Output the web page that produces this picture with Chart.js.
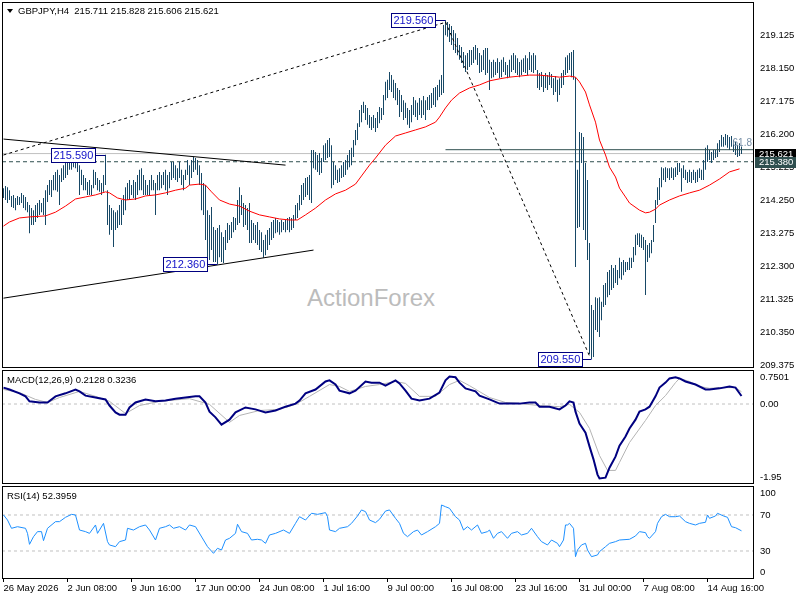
<!DOCTYPE html>
<html lang="en">
<head>
<meta charset="UTF-8">
<title>GBPJPY H4</title>
<script src="https://cdn.jsdelivr.net/npm/chart.js"></script>
<style>
  body { margin: 0; background: #fff; }
  #wrap { position: relative; width: 800px; height: 600px; overflow: hidden;
          font-family: "Liberation Sans", Arial, sans-serif; }
  #wrap canvas { position: absolute; left: 0; }
  .lbl { position: absolute; font-size: 9.5px; line-height: 11px; color: #000; white-space: pre; }
  #arrow { position: absolute; left: 7px; top: 9px; width: 0; height: 0;
           border-left: 3px solid transparent; border-right: 3px solid transparent; border-top: 4px solid #000; }
  #watermark { position: absolute; left: 307px; top: 285px; font-size: 24px; line-height: 26px; color: #bcbcbc; }
</style>
</head>
<body>
<div id="wrap">
  <div id="watermark">ActionForex</div>
  <canvas id="priceChart" width="800" height="369" style="top:0"></canvas>
  <canvas id="macdChart" width="800" height="117" style="top:369px"></canvas>
  <canvas id="rsiChart" width="800" height="115" style="top:485px"></canvas>
  <div id="arrow"></div>
  <div class="lbl" id="title" style="left:18px;top:5px"></div>
  <div class="lbl" style="left:7px;top:374px">MACD(12,26,9) 0.2128 0.3236</div>
  <div class="lbl" style="left:7px;top:490px">RSI(14) 52.3959</div>
</div>

<script>
    // ---- data ----
    const symbol = 'GBPJPY,H4';
    const lastOhlc = [215.711, 215.828, 215.606, 215.621];

    const priceTicks = [219.125, 218.150, 217.175, 216.200, 215.225, 214.250, 213.275, 212.300, 211.325, 210.350, 209.375];
    const timeTickIdx = [0, 32, 64, 96, 128, 160, 192, 224, 256, 288, 320, 352];
    const timeTickText = ['26 May 2026', '2 Jun 08:00', '9 Jun 16:00', '17 Jun 00:00', '24 Jun 08:00', '1 Jul 16:00',
                          '9 Jul 00:00', '16 Jul 08:00', '23 Jul 16:00', '31 Jul 00:00', '7 Aug 08:00', '14 Aug 16:00'];

    // H4 bars, one per index
    const barHigh = [
        214.60, 214.66, 214.63, 214.54, 214.37, 214.40, 214.31, 214.37, 214.34, 214.46,
        214.40, 214.34, 214.19, 214.10, 214.01, 213.95, 214.10, 214.16, 214.25, 214.16,
        214.31, 214.54, 214.69, 214.84, 214.84, 214.99, 215.08, 215.14, 214.99, 215.19,
        215.28, 215.43, 215.43, 215.52, 215.49, 215.55, 215.52, 215.43, 215.28, 215.14,
        214.99, 214.90, 214.78, 214.84, 214.69, 215.14, 215.08, 214.90, 214.84, 214.75,
        214.99, 215.59, 214.54, 214.10, 214.01, 213.95, 213.89, 213.95, 214.10, 214.25,
        214.40, 214.63, 214.75, 214.84, 214.69, 214.84, 214.78, 214.99, 215.14, 215.19,
        214.99, 214.84, 214.69, 214.84, 214.99, 214.84, 214.75, 214.99, 215.08, 214.99,
        215.08, 215.14, 214.99, 215.08, 215.37, 215.37, 215.28, 215.19, 215.37, 215.14,
        214.99, 215.14, 215.43, 215.28, 215.43, 215.52, 215.49, 215.43, 215.28, 215.05,
        214.75, 214.69, 213.95, 213.81, 214.04, 213.45, 213.36, 213.42, 213.51, 213.30,
        213.16, 213.36, 213.57, 213.51, 213.60, 213.75, 213.72, 214.25, 214.63, 214.40,
        214.16, 214.10, 214.01, 214.16, 213.66, 213.57, 213.51, 213.60, 213.36, 213.30,
        213.07, 213.22, 213.36, 213.42, 213.60, 213.66, 213.72, 213.66, 213.60, 213.66,
        213.60, 213.66, 213.72, 213.75, 213.72, 213.81, 214.10, 214.16, 214.40, 214.69,
        214.75, 214.90, 214.93, 214.99, 215.73, 215.73, 215.67, 215.58, 215.64, 215.49,
        215.87, 215.93, 216.02, 216.08, 215.87, 215.37, 215.28, 215.14, 215.19, 215.28,
        215.37, 215.43, 215.58, 215.73, 215.79, 216.02, 216.32, 216.52, 216.91, 217.06,
        217.15, 217.06, 216.97, 216.76, 216.70, 216.76, 216.67, 216.85, 217.00, 216.97,
        217.35, 217.74, 217.80, 218.03, 217.94, 217.80, 217.71, 217.56, 217.50, 217.35,
        217.20, 217.12, 216.97, 216.91, 217.06, 217.29, 217.20, 217.12, 217.26, 217.20,
        217.32, 217.20, 217.29, 217.35, 217.41, 217.56, 217.59, 217.65, 217.80, 217.94,
        219.42, 219.56, 219.51, 219.45, 219.39, 219.27, 219.18, 219.04, 218.83, 218.77,
        218.62, 218.53, 218.59, 218.68, 218.68, 218.77, 218.83, 218.74, 218.59, 218.53,
        218.68, 218.74, 218.74, 218.39, 218.33, 218.39, 218.33, 218.44, 218.33, 218.39,
        218.47, 218.33, 218.24, 218.39, 218.53, 218.59, 218.53, 218.44, 218.33, 218.39,
        218.44, 218.53, 218.44, 218.62, 218.53, 218.59, 218.53, 218.09, 218.00, 218.03,
        217.94, 218.00, 217.94, 218.03, 217.97, 217.85, 217.91, 217.80, 217.85, 218.00,
        218.09, 218.47, 218.53, 218.59, 218.62, 218.68, 217.88, 215.14, 216.26, 216.23,
        216.11, 215.34, 214.84, 212.98, 211.15, 211.00, 211.38, 211.35, 211.38, 211.24,
        211.74, 211.80, 212.12, 212.18, 212.33, 212.24, 212.33, 212.18, 212.54, 212.42,
        212.48, 212.42, 212.42, 212.54, 212.54, 212.86, 213.22, 213.27, 213.27, 213.22,
        213.16, 213.07, 212.92, 212.98, 213.07, 213.51, 214.25, 214.63, 214.90, 215.22,
        215.19, 215.22, 215.19, 215.19, 215.22, 215.19, 215.22, 215.34, 215.34, 215.19,
        215.28, 215.14, 215.08, 215.14, 215.08, 215.14, 215.08, 215.14, 215.19, 215.14,
        215.43, 215.79, 215.87, 215.73, 215.67, 215.73, 215.73, 215.93, 216.02, 216.17,
        216.11, 216.20, 216.17, 216.11, 216.14, 216.02, 215.96, 215.87, 215.93, 215.83
    ];
    const barLow = [
        214.31, 214.25, 214.16, 214.25, 214.04, 214.01, 213.95, 214.10, 214.10, 214.16,
        214.01, 213.95, 213.89, 213.27, 213.51, 213.51, 213.60, 213.72, 213.81, 213.89,
        213.81, 213.51, 214.19, 214.40, 214.34, 214.54, 214.54, 214.49, 214.10, 214.78,
        214.84, 214.90, 214.99, 215.14, 215.14, 215.22, 215.19, 215.08, 214.40, 214.69,
        214.54, 214.54, 214.40, 214.40, 214.40, 214.60, 214.69, 214.54, 214.49, 214.40,
        214.49, 214.69, 213.51, 213.22, 213.36, 212.86, 213.36, 213.42, 213.51, 213.51,
        213.81, 213.95, 214.25, 214.25, 214.40, 214.31, 214.25, 214.40, 214.54, 214.54,
        214.40, 214.40, 214.40, 214.40, 214.54, 214.54, 213.81, 214.54, 214.54, 214.60,
        214.69, 214.54, 214.40, 214.60, 214.84, 214.90, 214.84, 214.78, 214.90, 214.69,
        214.54, 214.84, 214.99, 214.69, 214.90, 215.08, 215.14, 214.99, 214.69, 213.95,
        213.81, 213.07, 212.54, 212.48, 212.77, 212.42, 212.42, 212.36, 212.56, 212.42,
        212.39, 212.77, 212.98, 213.07, 213.13, 213.30, 213.36, 213.51, 213.57, 213.81,
        213.45, 213.51, 213.36, 212.98, 212.98, 213.07, 212.98, 212.92, 212.77, 212.71,
        212.54, 212.62, 212.77, 212.92, 213.07, 213.13, 213.27, 213.30, 213.22, 213.30,
        213.36, 213.30, 213.36, 213.30, 213.36, 213.42, 213.66, 213.72, 213.95, 214.10,
        214.25, 214.34, 214.40, 214.25, 214.16, 215.19, 215.14, 215.08, 214.99, 215.05,
        215.37, 215.43, 215.49, 215.52, 214.60, 214.69, 214.84, 214.75, 214.78, 214.90,
        214.93, 214.99, 215.14, 215.22, 215.28, 215.52, 215.87, 216.02, 216.41, 216.55,
        216.82, 216.61, 216.47, 216.38, 216.32, 216.38, 216.26, 216.38, 216.52, 216.61,
        216.76, 217.20, 217.26, 217.50, 217.44, 217.26, 217.20, 217.06, 216.70, 216.85,
        216.61, 216.67, 216.47, 216.38, 216.55, 216.76, 216.70, 216.61, 216.76, 216.67,
        216.76, 216.61, 216.91, 216.91, 216.97, 217.06, 217.00, 217.20, 217.29, 217.35,
        217.41, 219.12, 219.07, 218.92, 218.83, 218.68, 218.59, 218.53, 218.39, 218.30,
        218.15, 218.03, 218.09, 218.18, 218.24, 218.30, 218.39, 218.24, 218.00, 218.03,
        218.09, 217.94, 218.00, 217.50, 217.85, 217.88, 217.94, 218.00, 217.85, 217.88,
        218.03, 217.94, 217.85, 217.88, 218.03, 218.09, 218.00, 217.94, 217.88, 217.94,
        218.03, 218.00, 217.94, 218.09, 218.03, 218.00, 218.09, 217.56, 217.50, 217.59,
        217.44, 217.56, 217.50, 217.65, 217.56, 217.35, 217.44, 217.15, 217.35, 217.56,
        217.65, 217.94, 218.00, 218.09, 217.88, 217.80, 212.27, 213.42, 213.45, 215.34,
        213.36, 213.07, 212.48, 209.70, 209.55, 209.61, 210.41, 210.35, 210.20, 210.70,
        211.09, 211.15, 211.38, 211.44, 211.59, 211.65, 211.80, 211.74, 211.94, 211.89,
        212.03, 212.12, 212.18, 212.18, 212.24, 212.42, 212.62, 212.92, 212.86, 212.83,
        212.77, 211.44, 212.42, 212.54, 212.68, 213.01, 213.57, 214.10, 214.25, 214.63,
        214.84, 214.78, 214.90, 214.84, 214.90, 214.84, 214.93, 214.99, 215.08, 214.49,
        214.90, 214.84, 214.75, 214.78, 214.75, 214.84, 214.75, 214.78, 214.90, 214.84,
        214.84, 215.14, 215.37, 215.43, 215.34, 215.43, 215.49, 215.52, 215.67, 215.82,
        215.82, 215.87, 215.79, 215.73, 215.82, 215.67, 215.58, 215.52, 215.55, 215.61
    ];

    // red moving average, sampled along the curve
    const maIdx = [0, 3, 8, 13, 21, 26, 31, 36, 41, 46, 51, 53, 57, 61, 66, 71, 76, 81, 86, 91,
                   93, 98, 101, 104, 108, 113, 118, 123, 128, 133, 138, 143, 147, 151, 156, 161, 166, 171, 176, 179,
                   183, 186, 191, 196, 201, 206, 211, 216, 218, 221, 224, 228, 233, 238, 243, 248, 253, 258, 263, 268,
                   273, 278, 283, 286, 288, 291, 293, 296, 298, 301, 303, 306, 308, 311, 313, 318, 321, 323, 326, 328,
                   333, 338, 343, 348, 353, 358, 363, 368];
    const maVal = [213.48, 213.60, 213.72, 213.75, 213.78, 213.89, 214.07, 214.28, 214.34, 214.40,
                   214.49, 214.46, 214.31, 214.25, 214.28, 214.37, 214.40, 214.46, 214.54, 214.60,
                   214.69, 214.72, 214.69, 214.49, 214.25, 214.13, 214.07, 213.92, 213.81, 213.75,
                   213.69, 213.66, 213.66, 213.81, 214.01, 214.25, 214.43, 214.54, 214.72, 214.96,
                   215.28, 215.49, 215.87, 216.14, 216.23, 216.32, 216.41, 216.55, 216.70, 216.97,
                   217.20, 217.41, 217.56, 217.65, 217.77, 217.83, 217.88, 217.91, 217.94, 217.94,
                   217.91, 217.88, 217.91, 217.88, 217.74, 217.44, 217.06, 216.55, 216.02, 215.58,
                   215.22, 214.93, 214.60, 214.34, 214.16, 213.95, 213.87, 213.89, 213.98, 214.10,
                   214.25, 214.37, 214.46, 214.54, 214.69, 214.87, 215.08, 215.17];

    // marked swing points
    const pivotIdx = [51, 107, 221, 294];
    const pivotPrice = [215.590, 212.360, 219.560, 209.550];

    // drawn objects: [startIdx, startPrice, endIdx, endPrice]
    const trendUp = [0, 215.58, 221, 219.50];
    const trendDown = [221, 219.51, 293, 209.64];
    const triTop = [0, 216.05, 141, 215.28];
    const triBottom = [0, 211.35, 155, 212.77];
    const dashLevel = 215.380;
    const fib618 = pivotPrice[3] + 0.618 * (pivotPrice[2] - pivotPrice[3]);

    // MACD panel
    const macdIdx = [0, 3, 8, 11, 13, 18, 22, 26, 31, 36, 38, 41, 46, 51, 53, 56, 58, 61, 63, 66,
                     71, 76, 81, 86, 91, 96, 98, 101, 103, 106, 109, 113, 116, 121, 126, 131, 136, 141, 146, 148,
                     151, 156, 161, 163, 166, 168, 173, 176, 181, 184, 188, 191, 196, 198, 201, 204, 208, 213, 218, 221,
                     223, 226, 228, 231, 236, 238, 243, 248, 253, 258, 263, 266, 268, 273, 278, 281, 283, 285, 286, 288,
                     291, 293, 295, 297, 298, 301, 303, 306, 308, 311, 313, 316, 318, 321, 323, 326, 328, 331, 333, 336,
                     338, 341, 346, 351, 353, 358, 363, 366, 369];
    const macdVal = [0.43, 0.38, 0.28, 0.20, 0.07, 0.04, 0.04, 0.20, 0.28, 0.38,
                     0.33, 0.22, 0.17, 0.12, -0.04, -0.22, -0.28, -0.28, -0.09, 0.04,
                     0.12, 0.07, 0.09, 0.14, 0.17, 0.20, 0.20, 0.04, -0.20, -0.35,
                     -0.54, -0.41, -0.22, -0.09, -0.14, -0.22, -0.17, -0.07, 0.01, 0.09,
                     0.28, 0.38, 0.59, 0.62, 0.51, 0.35, 0.28, 0.35, 0.59, 0.56,
                     0.56, 0.48, 0.62, 0.54, 0.35, 0.14, 0.09, 0.14, 0.30, 0.62,
                     0.72, 0.70, 0.56, 0.41, 0.33, 0.22, 0.12, 0.01, 0.01, 0.01,
                     0.04, 0.04, -0.07, -0.07, -0.14, -0.04, 0.07, 0.04, -0.20, -0.51,
                     -0.75, -1.11, -1.45, -1.85, -1.95, -1.93, -1.67, -1.38, -1.09, -0.85,
                     -0.64, -0.41, -0.20, -0.14, -0.07, 0.20, 0.43, 0.56, 0.67, 0.70,
                     0.67, 0.59, 0.51, 0.38, 0.38, 0.41, 0.46, 0.43, 0.21];
    const sigIdx = [0, 8, 16, 22, 28, 38, 46, 53, 61, 68, 78, 93, 103, 113, 118, 128, 138, 146, 153, 163,
                    168, 173, 181, 188, 196, 201, 208, 216, 223, 228, 233, 243, 251, 258, 268, 278, 283, 288, 293, 298,
                    302, 306, 308, 313, 321, 326, 331, 336, 338, 343, 348, 353, 358, 366, 369];
    const sigVal = [0.38, 0.30, 0.12, 0.04, 0.17, 0.33, 0.20, 0.07, -0.25, -0.04,
                    0.07, 0.14, -0.01, -0.48, -0.30, -0.17, -0.14, -0.01, 0.20, 0.51,
                    0.46, 0.33, 0.46, 0.51, 0.59, 0.54, 0.20, 0.20, 0.51, 0.62,
                    0.48, 0.17, 0.04, 0.01, -0.04, -0.07, -0.01, -0.22, -0.64, -1.35,
                    -1.74, -1.74, -1.53, -1.01, -0.43, -0.04, 0.22, 0.56, 0.67, 0.59,
                    0.46, 0.41, 0.43, 0.43, 0.32];
    const macdTickVal = [0.7501, 0, -1.95];
    const macdTickText = ['0.7501', '0.00', '-1.95'];

    // RSI panel
    const rsiIdx = [0, 2, 4, 7, 11, 12, 13, 15, 17, 19, 20, 22, 26, 28, 31, 34, 36, 38, 41, 43,
                    46, 47, 50, 52, 53, 56, 58, 61, 62, 65, 68, 71, 73, 76, 78, 81, 83, 85, 88, 91,
                    93, 96, 100, 102, 105, 107, 109, 111, 113, 116, 117, 119, 122, 124, 127, 129, 131, 133, 136, 140,
                    143, 146, 148, 151, 154, 157, 161, 162, 163, 166, 168, 172, 174, 177, 179, 181, 183, 186, 188, 191,
                    193, 196, 198, 200, 202, 205, 207, 209, 212, 216, 218, 219, 221, 223, 226, 228, 230, 232, 234, 237,
                    239, 242, 243, 245, 247, 249, 252, 254, 257, 259, 262, 264, 267, 269, 272, 274, 277, 278, 280, 281,
                    282, 283, 285, 286, 287, 289, 291, 292, 294, 297, 298, 301, 303, 306, 308, 313, 316, 318, 321, 322,
                    323, 326, 327, 329, 331, 333, 336, 338, 341, 343, 346, 348, 351, 352, 353, 356, 357, 360, 362, 364,
                    366, 369];
    const rsiVal = [70, 64.4, 55.2, 57, 55.2, 49.6, 37.4, 45.9, 51.5, 51.5,
                    41.5, 55.2, 62.6, 62.6, 67.4, 70.7, 70, 53.3, 51.5, 49.6,
                    58.9, 49.6, 60.7, 40.4, 36.7, 34.8, 40.4, 42.2, 55.2, 53.3,
                    57, 58.9, 53.3, 42.2, 55.2, 57, 58.9, 55.2, 57, 53.3,
                    58.9, 57, 42.2, 34.8, 27.4, 33, 31.1, 42.2, 44.1, 49.6,
                    59.7, 51.5, 49.6, 42.2, 43, 42.2, 38.5, 47.8, 49.6, 53.3,
                    49.6, 60.7, 68.1, 64.4, 71.9, 70.7, 72.6, 68.1, 53.3, 51.5,
                    55.2, 57, 60.7, 68.9, 75.6, 73.7, 64.4, 61.5, 65.2, 74.4,
                    75.6, 66.3, 60.7, 49.6, 45.9, 51.5, 53.3, 47.8, 51.5, 57,
                    60.7, 81.1, 79.2, 77.4, 68.1, 64.4, 53.3, 57, 53.3, 58.9,
                    49.6, 51.5, 53.3, 44.1, 49.6, 51.5, 44.1, 49.6, 51.5, 47.8,
                    49.6, 55.2, 45.9, 40.4, 36.7, 42.2, 38.5, 34.8, 42.2, 58.9,
                    58.9, 60.7, 55.2, 23.7, 31.1, 36.7, 38.5, 31.1, 23.7, 25.6,
                    29.3, 34.8, 38.5, 40.4, 42.2, 43, 46.7, 51.5, 50.4, 45.9,
                    44.1, 51.5, 60.7, 68.1, 70.7, 68.1, 68.1, 68.9, 62.6, 60.7,
                    58.9, 60.7, 61.9, 70, 66.3, 68.9, 71.9, 68.9, 67.4, 57,
                    55.9, 52.4];
    const rsiTickVal = [100, 70, 30, 0];
    const rsiLevels = [70, 30];

    // ---- shared setup ----
    const FONT = '"Liberation Sans", Arial, sans-serif';
    Chart.defaults.font.family = FONT;
    Chart.defaults.font.size = 9.5;
    Chart.defaults.color = '#000';

    const X_MIN = -0.75, X_MAX = 375.25;   // 2 px per bar
    const lastClose = lastOhlc[3];
    document.getElementById('title').textContent = symbol + '  ' + lastOhlc.map(v => v.toFixed(3)).join(' ');

    const pts = (xs, ys) => xs.map((x, i) => ({ x: x, y: ys[i] }));
    const seg = (s) => [{ x: s[0], y: s[1] }, { x: s[2], y: s[3] }];
    const hline = (x0, v) => [{ x: x0, y: v }, { x: X_MAX, y: v }];

    function lineSet(data, color, width, dash, order) {
        return { type: 'line', data: data, borderColor: color, borderWidth: width, borderDash: dash || [],
                 pointRadius: 0, fill: false, tension: 0, order: order };
    }

    function fixY(s) { s.width = 46; s.paddingTop = 0; s.paddingBottom = 0; }

    const baseOptions = {
        responsive: false, animation: false, devicePixelRatio: 1, events: [],
        plugins: { legend: { display: false }, tooltip: { enabled: false } }
    };

    // black frame round each panel
    const framePlugin = {
        id: 'frame',
        afterDraw(chart) {
            const { ctx, chartArea: a } = chart;
            ctx.save();
            ctx.strokeStyle = '#000';
            ctx.lineWidth = 1;
            ctx.strokeRect(a.left + 0.5, a.top + 0.5, a.right - a.left - 1, a.bottom - a.top - 1);
            ctx.restore();
        }
    };

    // right hand labels of the sub windows, kept inside the panel like MT4 does
    function sideLabels(vals, texts) {
        return {
            id: 'sideLabels',
            afterDraw(chart) {
                const { ctx, chartArea: a, scales: { y } } = chart;
                ctx.save();
                ctx.font = '9.5px ' + FONT;
                ctx.fillStyle = '#000';
                ctx.textBaseline = 'middle';
                vals.forEach((v, i) => {
                    const py = Math.min(Math.max(y.getPixelForValue(v), a.top + 7), a.bottom - 7);
                    ctx.fillText(texts[i], a.right + 6, py);
                });
                ctx.restore();
            }
        };
    }

    // price boxes at the swing points
    const pivotPlugin = {
        id: 'pivots',
        afterDatasetsDraw(chart) {
            const { ctx, chartArea: a, scales: { x, y } } = chart;
            ctx.save();
            ctx.font = '11px ' + FONT;
            ctx.textBaseline = 'middle';
            ctx.lineWidth = 1;
            pivotIdx.forEach((idx, i) => {
                const px = x.getPixelForValue(idx);
                const py = Math.round(y.getPixelForValue(pivotPrice[i])) + 0.5;
                const text = pivotPrice[i].toFixed(3);
                const w = Math.ceil(ctx.measureText(text).width) + 4;
                const bx = Math.round(px - 10 - w) + 0.5;
                ctx.fillStyle = '#fff';
                ctx.fillRect(bx, py - 7, w, 14);
                ctx.strokeStyle = '#000080';
                ctx.strokeRect(bx, py - 7, w, 14);
                ctx.beginPath();
                ctx.moveTo(bx + w, py);
                ctx.lineTo(px, py);
                ctx.stroke();
                ctx.fillStyle = '#1010c8';
                ctx.fillText(text, bx + 2, py + 0.5);
            });
            // fibo level text
            ctx.font = '10px ' + FONT;
            ctx.fillStyle = '#7890a8';
            ctx.textAlign = 'right';
            ctx.textBaseline = 'bottom';
            ctx.fillText('61.8', a.right - 2, y.getPixelForValue(fib618) - 1);
            ctx.restore();
        }
    };

    // highlighted tags on the price axis
    const tagPlugin = {
        id: 'priceTags',
        afterDraw(chart) {
            const { ctx, chartArea: a, scales: { y } } = chart;
            ctx.save();
            ctx.font = '9.5px ' + FONT;
            ctx.textBaseline = 'middle';
            [[lastClose, '#000'], [dashLevel, '#2f4f4f']].forEach(([v, bg]) => {
                const py = Math.round(y.getPixelForValue(v));
                ctx.fillStyle = bg;
                ctx.fillRect(a.right + 1, py - 5, 41, 11);
                ctx.fillStyle = '#fff';
                ctx.fillText(v.toFixed(3), a.right + 5, py + 0.5);
            });
            ctx.restore();
        }
    };

    // ---- price window ----
    new Chart(document.getElementById('priceChart'), {
        type: 'bar',
        data: {
            datasets: [
                lineSet(seg(trendUp), '#000', 1, [3, 3], 0),
                lineSet(seg(trendDown), '#000', 1, [3, 3], 0),
                lineSet(seg(triTop), '#000', 1, null, 0),
                lineSet(seg(triBottom), '#000', 1, null, 0),
                lineSet(hline(pivotIdx[2], fib618), '#2f4f4f', 1, null, 0),
                lineSet(pts(maIdx, maVal), '#ff0000', 1, null, 1),
                {
                    type: 'bar',
                    data: barHigh.map((h, i) => ({ x: i, y: [barLow[i], h] })),
                    backgroundColor: '#174866',
                    borderWidth: 0,
                    inflateAmount: 0,
                    barThickness: 1,
                    order: 2
                },
                lineSet(hline(X_MIN, lastClose), '#c0c0c0', 1, null, 3),
                lineSet(hline(X_MIN, dashLevel), '#2f4f4f', 1, [4, 3], 3)
            ]
        },
        options: Object.assign({}, baseOptions, {
            layout: { padding: { left: 2, top: 2, right: 0, bottom: 1 } },
            scales: {
                x: { type: 'linear', min: X_MIN, max: X_MAX, display: false, offset: false },
                y: {
                    type: 'linear', position: 'right', min: 209.286, max: 220.10,
                    afterBuildTicks: s => { s.ticks = priceTicks.map(v => ({ value: v })); },
                    afterFit: fixY,
                    grid: { display: false, drawTicks: false },
                    border: { display: false },
                    ticks: { padding: 6, autoSkip: false, callback: v => v.toFixed(3) }
                }
            }
        }),
        plugins: [framePlugin, pivotPlugin, tagPlugin]
    });

    // ---- MACD window ----
    new Chart(document.getElementById('macdChart'), {
        type: 'line',
        data: {
            datasets: [
                lineSet(pts(macdIdx, macdVal), '#000080', 2, null, 0),
                lineSet(pts(sigIdx, sigVal), '#b4b4b4', 1, null, 1),
                lineSet(hline(X_MIN, 0), '#c0c0c0', 1, [3, 3], 2)
            ]
        },
        options: Object.assign({}, baseOptions, {
            layout: { padding: { left: 2, top: 1, right: 0, bottom: 2 } },
            scales: {
                x: { type: 'linear', min: X_MIN, max: X_MAX, display: false },
                y: {
                    type: 'linear', position: 'right', min: -2.096, max: 0.891,
                    afterFit: fixY,
                    grid: { display: false, drawTicks: false },
                    border: { display: false },
                    ticks: { display: false }
                }
            }
        }),
        plugins: [framePlugin, sideLabels(macdTickVal, macdTickText)]
    });

    // ---- RSI window with the time axis ----
    new Chart(document.getElementById('rsiChart'), {
        type: 'line',
        data: {
            datasets: [
                lineSet(pts(rsiIdx, rsiVal), '#1e90ff', 1, null, 0),
                lineSet(hline(X_MIN, rsiLevels[0]), '#c0c0c0', 1, [3, 3], 1),
                lineSet(hline(X_MIN, rsiLevels[1]), '#c0c0c0', 1, [3, 3], 1)
            ]
        },
        options: Object.assign({}, baseOptions, {
            layout: { padding: { left: 2, top: 1, right: 0, bottom: 0 } },
            scales: {
                x: {
                    type: 'linear', min: X_MIN, max: X_MAX,
                    afterBuildTicks: s => { s.ticks = timeTickIdx.map(v => ({ value: v })); },
                    afterFit: s => { s.height = 21; s.paddingLeft = 0; s.paddingRight = 0; },
                    grid: { display: true, drawOnChartArea: false, drawTicks: true, tickLength: 3, color: '#000' },
                    border: { display: false },
                    ticks: { align: 'start', autoSkip: false, maxRotation: 0, padding: 1,
                             callback: (v, i) => timeTickText[i] }
                },
                y: {
                    type: 'linear', position: 'right', min: -1.11, max: 102.2,
                    afterFit: fixY,
                    grid: { display: false, drawTicks: false },
                    border: { display: false },
                    ticks: { display: false }
                }
            }
        }),
        plugins: [framePlugin, sideLabels(rsiTickVal, rsiTickVal.map(String))]
    });
</script>
</body>
</html>
